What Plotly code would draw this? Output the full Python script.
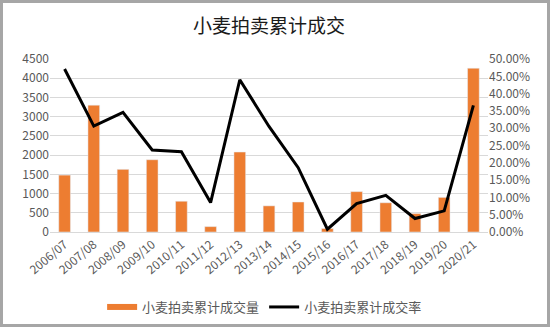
import plotly.graph_objects as go

categories = ["2006/07", "2007/08", "2008/09", "2009/10", "2010/11", "2011/12", "2012/13",
              "2013/14", "2014/15", "2015/16", "2016/17", "2017/18", "2018/19", "2019/20", "2020/21"]
volume = [1480, 3300, 1630, 1880, 800, 140, 2080, 680, 780, 90, 1050, 760, 480, 900, 4260]
rate = [0.471, 0.306, 0.346, 0.237, 0.232, 0.085, 0.440, 0.305, 0.186, 0.008,
        0.082, 0.106, 0.039, 0.061, 0.366]
left_ticks = [0, 500, 1000, 1500, 2000, 2500, 3000, 3500, 4000, 4500]
right_ticks = [0, 0.05, 0.10, 0.15, 0.20, 0.25, 0.30, 0.35, 0.40, 0.45, 0.50]

FONT = "Noto Sans CJK SC"
GRAY = "#595959"
ORANGE = "#ED7D31"

fig = go.Figure()
fig.add_trace(go.Bar(x=categories, y=volume, name="小麦拍卖累计成交量",
                     marker_color=ORANGE, yaxis="y", showlegend=False))
# legend proxy for the bar series (wide swatch like the reference)
fig.add_trace(go.Scatter(x=[None], y=[None], name="小麦拍卖累计成交量", mode="lines",
                         line=dict(color=ORANGE, width=6), yaxis="y"))
fig.add_trace(go.Scatter(x=categories, y=rate, name="小麦拍卖累计成交率", mode="lines",
                         line=dict(color="black", width=3), yaxis="y2"))

L, R, T, B = 50, 62, 59, 95
W, H = 550, 327
pw, ph = W - L - R, H - T - B

fig.update_layout(
    width=W, height=H,
    margin=dict(l=L, r=R, t=T, b=B, autoexpand=False),
    paper_bgcolor="white", plot_bgcolor="white",
    font=dict(family=FONT, color=GRAY, size=12),
    title=dict(text="小麦拍卖累计成交", x=0.5, xref="paper", y=1 - 26 / H, yanchor="middle",
               xanchor="center", font=dict(size=19, color="#1a1a1a", family=FONT)),
    bargap=0.6,
    showlegend=True,
    legend=dict(orientation="h", x=0.49, xanchor="center", y=(H - 307 - B) / ph,
                yanchor="middle", yref="paper", font=dict(size=13, color=GRAY, family=FONT),
                bgcolor="rgba(0,0,0,0)", traceorder="normal"),
    xaxis=dict(tickangle=-40, tickfont=dict(size=12, color=GRAY), showline=True,
               linecolor="#d9d9d9", linewidth=1, showgrid=False, ticks="", automargin=False),
    yaxis=dict(range=[0, 4500], tickvals=left_ticks, gridcolor="#d9d9d9", gridwidth=1,
               tickfont=dict(size=12, color=GRAY), zeroline=False, ticks="", automargin=False),
    yaxis2=dict(range=[0, 0.5], tickvals=right_ticks, tickformat=".2%", overlaying="y",
                side="right", showgrid=False, tickfont=dict(size=12, color=GRAY),
                zeroline=False, ticks="", automargin=False),
    shapes=[dict(type="rect", xref="paper", yref="paper",
                 x0=(1.5 - L) / pw, x1=(W - 1.5 - L) / pw,
                 y0=-(H - 1.5 - (T + ph)) / ph, y1=(T + ph - 1.5) / ph,
                 line=dict(color="#a6a6a6", width=3), fillcolor="rgba(0,0,0,0)", layer="below")],
)

fig.write_html("out.html", config={"displayModeBar": False},
               post_script="document.body.style.margin='0';document.body.style.overflow='hidden';")
